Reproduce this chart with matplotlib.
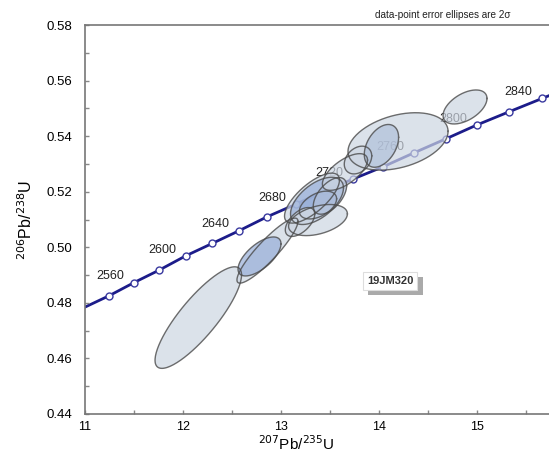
import numpy as np
import matplotlib
matplotlib.use("Agg")
import matplotlib.pyplot as plt
import matplotlib.patheffects as pe
from matplotlib.ticker import MultipleLocator

plt.rcParams['font.family'] = ['Liberation Sans', 'DejaVu Sans']

# concordia points (Ma)
conc_age = [2520, 2540, 2560, 2580, 2600, 2620, 2640, 2660, 2680, 2700,
            2720, 2740, 2760, 2780, 2800, 2820, 2840, 2860]
conc_x = [10.99, 11.248, 11.50, 11.757, 12.026, 12.298, 12.573, 12.858, 13.15, 13.44,
          13.735, 14.04, 14.354, 14.677, 14.993, 15.325, 15.662, 16.0]
conc_y = [0.4783, 0.4826, 0.4873, 0.4918, 0.4969, 0.5014, 0.5060, 0.5110, 0.5155, 0.5202,
          0.5246, 0.5290, 0.5340, 0.5390, 0.5440, 0.5488, 0.5536, 0.5584]
label_ages = [2560, 2600, 2640, 2680, 2720, 2760, 2800, 2840]

# data-point ellipses: 207/235, 2s, 206/238, 2s, rho, shade (0 light, 1 mid, 2 dark)
pb75 = [12.155, 12.860, 12.779, 13.314, 13.365, 13.375, 13.375, 13.192, 13.497,
        13.650, 13.783, 14.191, 14.022, 14.874]
pb75_err = [0.441, 0.311, 0.219, 0.28, 0.27, 0.19, 0.30, 0.15, 0.17,
            0.23, 0.14, 0.510, 0.175, 0.224]
pb68 = [0.4747, 0.4988, 0.4967, 0.5177, 0.5167, 0.5152, 0.5098, 0.5091, 0.5185,
        0.5271, 0.5314, 0.5381, 0.5365, 0.5505]
pb68_err = [0.01828, 0.0117, 0.00702, 0.0090, 0.0085, 0.0050, 0.0056, 0.0052, 0.0066,
            0.0066, 0.0050, 0.01033, 0.0077, 0.00612]
rho = [0.84, 0.9, 0.65, 0.72, 0.55, 0.45, 0.4, 0.55, 0.55,
       0.65, 0.3, 0.35, 0.4, 0.5]
shade = [0, 0, 2, 0, 2, 2, 0, 0, 1, 0, 0, 0, 1, 0]

fill_cols = ['#cdd6e2', '#b0c0da', '#97aed8']

fig = plt.figure(figsize=(5.49, 4.53), dpi=100)
ax = fig.add_axes([0.1548, 0.0861, 0.8452, 0.8587])

# concordia curve
ax.plot(conc_x, conc_y, color='#1c1c8a', lw=2, zorder=1)
ax.plot(conc_x[1:-1], conc_y[1:-1], 'o', ms=5, mfc='white', mec='#3a3aa0', mew=1, zorder=1)
for a in label_ages:
    i = conc_age.index(a)
    ax.annotate(str(a), (conc_x[i], conc_y[i]), xytext=(-17, 4.5), textcoords='offset points',
                ha='center', va='center', fontsize=9, color='#222222', zorder=1)

# error ellipses
t = np.linspace(0, 2 * np.pi, 200)
for xc, sx, yc, sy, r, s in zip(pb75, pb75_err, pb68, pb68_err, rho, shade):
    ex = xc + sx * np.cos(t)
    ey = yc + sy * (r * np.cos(t) + np.sqrt(1 - r ** 2) * np.sin(t))
    ax.fill(ex, ey, facecolor=fill_cols[s], alpha=0.7, edgecolor='none', zorder=2)
    ax.plot(ex, ey, color='#4a4a4a', lw=1, alpha=0.8, zorder=3)

txt = ax.text(14.109, 0.4880, '19JM320', ha='center', va='center', fontsize=8,
              fontweight='bold', color='#333333', zorder=4,
              bbox=dict(boxstyle='square,pad=0.35', fc='white', ec='#dddddd', lw=0.8))
txt.get_bbox_patch().set_path_effects([
    pe.SimplePatchShadow(offset=(4, -4), shadow_rgbFace='#aaaaaa', alpha=1),
    pe.Normal()])

ax.set_xlim(11, 15.73)
ax.set_ylim(0.44, 0.58)
ax.xaxis.set_major_locator(MultipleLocator(1))
ax.xaxis.set_minor_locator(MultipleLocator(0.5))
ax.yaxis.set_major_locator(MultipleLocator(0.02))
ax.yaxis.set_minor_locator(MultipleLocator(0.01))
ax.yaxis.set_major_formatter(plt.FormatStrFormatter('%.2f'))
ax.tick_params(which='both', direction='in', length=3, color='#888888', width=1)
ax.tick_params(axis='y', pad=9, labelsize=9.5)
ax.tick_params(axis='x', pad=5, labelsize=9)
for side in ['left', 'bottom', 'top']:
    ax.spines[side].set_color('#777777')
    ax.spines[side].set_linewidth(1.2)
ax.spines['right'].set_visible(False)

ax.set_xlabel(r'$^{207}$Pb/$^{235}$U', fontsize=11)
ax.xaxis.set_label_coords(0.455, -0.052)
ax.set_ylabel(r'$^{206}$Pb/$^{238}$U', fontsize=11.5)
ax.yaxis.set_label_coords(-0.108, 0.5)

fig.text(0.929, 0.967, 'data-point error ellipses are 2σ', ha='right', va='center',
         fontsize=7.2, color='#222222')

fig.savefig('out.png', dpi=100)
